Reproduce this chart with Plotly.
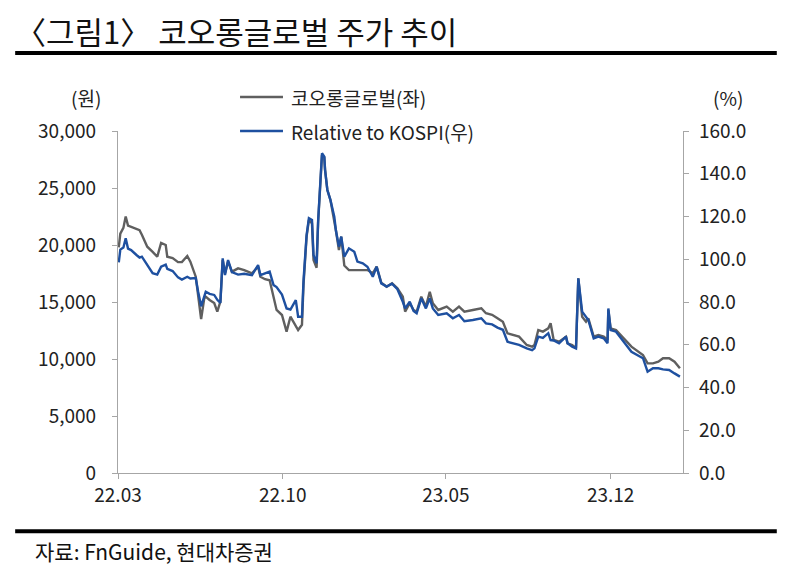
import plotly.graph_objects as go

# --- data ---
dates = ['2022-03-02', '2022-03-04', '2022-03-08', '2022-03-11', '2022-03-14', '2022-03-18',
         '2022-03-25', '2022-03-29', '2022-04-01', '2022-04-08', '2022-04-15', '2022-04-21',
         '2022-04-26', '2022-05-02', '2022-05-04', '2022-05-11', '2022-05-18', '2022-05-23',
         '2022-05-30', '2022-06-03', '2022-06-10', '2022-06-13', '2022-06-17', '2022-06-21',
         '2022-06-23', '2022-06-28', '2022-07-04', '2022-07-08', '2022-07-12', '2022-07-15',
         '2022-07-18', '2022-07-22', '2022-07-27', '2022-08-04', '2022-08-12', '2022-08-22',
         '2022-08-30', '2022-09-02', '2022-09-08', '2022-09-14', '2022-09-19', '2022-09-23',
         '2022-09-30', '2022-10-06', '2022-10-11', '2022-10-18', '2022-10-21', '2022-10-26',
         '2022-10-28', '2022-11-01', '2022-11-04', '2022-11-08', '2022-11-10', '2022-11-14',
         '2022-11-16', '2022-11-21', '2022-11-24', '2022-11-25', '2022-11-28', '2022-12-02',
         '2022-12-07', '2022-12-09', '2022-12-13', '2022-12-16', '2022-12-20', '2022-12-26',
         '2023-01-02', '2023-01-06', '2023-01-13', '2023-01-19', '2023-01-26', '2023-01-31',
         '2023-02-06', '2023-02-13', '2023-02-20', '2023-02-27', '2023-03-06', '2023-03-09',
         '2023-03-15', '2023-03-20', '2023-03-24', '2023-03-30', '2023-04-05', '2023-04-10',
         '2023-04-14', '2023-04-21', '2023-05-02', '2023-05-10', '2023-05-18', '2023-05-25',
         '2023-06-05', '2023-06-16', '2023-06-22', '2023-06-30', '2023-07-07', '2023-07-14',
         '2023-07-20', '2023-07-27', '2023-08-04', '2023-08-14', '2023-08-21', '2023-08-24',
         '2023-08-29', '2023-09-04', '2023-09-11', '2023-09-14', '2023-09-18', '2023-09-25',
         '2023-10-04', '2023-10-06', '2023-10-12', '2023-10-17', '2023-10-20', '2023-10-25',
         '2023-10-30', '2023-11-02', '2023-11-09', '2023-11-15', '2023-11-22', '2023-11-27',
         '2023-11-28', '2023-12-01', '2023-12-08', '2023-12-18', '2023-12-28', '2024-01-12',
         '2024-01-18', '2024-01-25', '2024-02-01', '2024-02-07', '2024-02-15', '2024-02-22',
         '2024-02-29']

# 코오롱글로벌 주가 (원)
price = [19800, 21000, 21500, 22500, 21700, 21600, 21400, 21300, 20900, 19850, 19400, 18970,
         20175, 20000, 18970, 18860, 18500, 18500, 19035, 18540, 17220, 15500, 13500, 15300,
         15470, 15175, 14910, 14150, 15030, 18680, 17520, 18540, 17660, 17950, 17800, 17520,
         18100, 17220, 17000, 16900, 15470, 14300, 13860, 12400, 13710, 12830, 12540, 13000,
         16500, 20730, 22190, 21900, 18680, 18000, 22000, 27890, 27700, 26580, 24820, 23950,
         22190, 21320, 19560, 20730, 18200, 17800, 17800, 17800, 17800, 17800, 17520, 18100,
         16700, 16340, 16640, 16200, 15470, 14150, 14890, 14300, 14150, 15470, 14590, 15900,
         14890, 14300, 14590, 14150, 14590, 14150, 14300, 14450, 14010, 13880, 13570, 13270,
         12250, 12100, 11960, 11230, 11080, 11230, 12540, 12400, 12690, 13130, 11670, 11520,
         11960, 11370, 11230, 10940, 17080, 13710, 13270, 13570, 11960, 12100, 11960, 11670,
         14300, 12690, 12540, 11810, 11080, 10350, 9620, 9620, 9760, 10060, 10060, 9760,
         9180]

# Relative to KOSPI (%)
relative = [98.5, 104.5, 105.5, 109.8, 105.0, 104.3, 102.0, 100.8, 101.2, 97.5, 93.5, 92.8,
            96.5, 97.5, 95.5, 94.5, 91.5, 90.5, 91.8, 91.0, 91.2, 85.0, 78.0, 82.5,
            84.8, 83.8, 83.3, 81.0, 79.6, 100.4, 92.6, 99.6, 94.0, 92.8, 93.2, 92.6,
            97.3, 92.6, 93.4, 94.2, 88.0, 87.0, 83.5, 77.0, 76.5, 80.9, 73.1, 73.1,
            90.0, 111.3, 119.2, 118.4, 102.0, 98.1, 118.0, 149.6, 148.0, 141.8, 132.4, 127.7,
            119.9, 113.7, 105.9, 110.6, 101.2, 105.1, 103.5, 98.9, 98.1, 96.5, 91.8, 96.5,
            88.7, 87.2, 88.6, 86.0, 80.1, 77.0, 80.1, 75.8, 74.7, 81.7, 77.0, 81.7,
            77.0, 73.9, 74.7, 72.4, 73.9, 71.0, 71.6, 72.4, 70.0, 69.5, 68.0, 67.0,
            61.4, 60.7, 59.9, 58.3, 57.5, 58.3, 63.8, 63.2, 65.4, 62.2, 62.0, 60.7,
            63.8, 60.7, 59.1, 58.3, 91.1, 75.5, 73.1, 71.6, 63.0, 63.8, 63.0, 60.7,
            77.0, 66.9, 66.1, 61.4, 56.7, 53.7, 47.4, 49.0, 49.0, 48.5, 48.2, 46.6,
            45.1]

series_names = ['코오롱글로벌(좌)', 'Relative to KOSPI(우)']
tick_dates = ['2022-03-01', '2022-10-01', '2023-05-01', '2023-12-01']
tick_labels = ['22.03', '22.10', '23.05', '23.12']

FONT = 'Noto Sans CJK KR'
AXIS_COLOR = '#a6a6a6'
GRAY = '#5f5f5f'
BLUE = '#1e50a0'

fig = go.Figure()
fig.add_trace(go.Scatter(x=dates, y=price, mode='lines', name=series_names[0],
                         line=dict(color=GRAY, width=2.4)))
fig.add_trace(go.Scatter(x=dates, y=relative, mode='lines', name=series_names[1],
                         yaxis='y2', line=dict(color=BLUE, width=2.4)))

# page body has an 8px margin, so the figure is 8px smaller on each side
fig.update_layout(
    width=784, height=566,
    margin=dict(l=110, r=109, t=123, b=101),
    paper_bgcolor='white', plot_bgcolor='white',
    font=dict(family=FONT, size=19, color='#222222'),
    showlegend=False,
    xaxis=dict(type='date', range=['2022-03-01', '2024-03-04'],
               tickvals=tick_dates, ticktext=tick_labels,
               showline=True, linecolor=AXIS_COLOR, linewidth=1.2,
               ticks='outside', ticklen=5, tickcolor=AXIS_COLOR,
               showgrid=False, zeroline=False),
    yaxis=dict(range=[0, 30000], dtick=5000, tickformat=',',
               showline=True, linecolor=AXIS_COLOR, linewidth=1.2,
               ticks='outside', ticklen=5, tickcolor=AXIS_COLOR, ticklabelstandoff=12,
               showgrid=False, zeroline=False),
    yaxis2=dict(range=[0, 160], dtick=20, tickformat='.1f', overlaying='y', side='right',
                showline=True, linecolor=AXIS_COLOR, linewidth=1.2,
                ticks='outside', ticklen=5, tickcolor=AXIS_COLOR, ticklabelstandoff=6,
                showgrid=False, zeroline=False),
)

# legend drawn by hand (line sample + label)
legend_rows = [(series_names[0], GRAY, 1.0994), (series_names[1], BLUE, 1.0)]
for name, color, ly in legend_rows:
    fig.add_shape(type='line', xref='paper', yref='paper', x0=0.216, x1=0.292, y0=ly, y1=ly,
                  line=dict(color=color, width=2.4))
    fig.add_annotation(text=name, xref='paper', yref='paper', x=0.302, y=ly,
                       xanchor='left', yanchor='middle', showarrow=False)

# title, rules and source
fig.add_annotation(text='〈그림1〉 코오롱글로벌 주가 추이', xref='paper', yref='paper',
                   x=-0.185, y=1.295, xanchor='left', yanchor='middle', showarrow=False,
                   font=dict(size=31, color='#111111'))
fig.add_shape(type='line', xref='paper', yref='paper', x0=-0.182, x1=1.166, y0=1.228, y1=1.228,
              line=dict(color='black', width=4))
fig.add_shape(type='line', xref='paper', yref='paper', x0=-0.182, x1=1.166, y0=-0.17, y1=-0.17,
              line=dict(color='black', width=4))
fig.add_annotation(text='자료: FnGuide, 현대차증권', xref='paper', yref='paper',
                   x=-0.15, y=-0.228, xanchor='left', yanchor='middle', showarrow=False,
                   font=dict(size=21, color='#111111'))

# axis unit labels
fig.add_annotation(text='(원)', xref='paper', yref='paper', x=-0.056, y=1.0994,
                   xanchor='center', yanchor='middle', showarrow=False)
fig.add_annotation(text='(%)', xref='paper', yref='paper', x=1.08, y=1.0994,
                   xanchor='center', yanchor='middle', showarrow=False)

fig.write_html('out.html')
